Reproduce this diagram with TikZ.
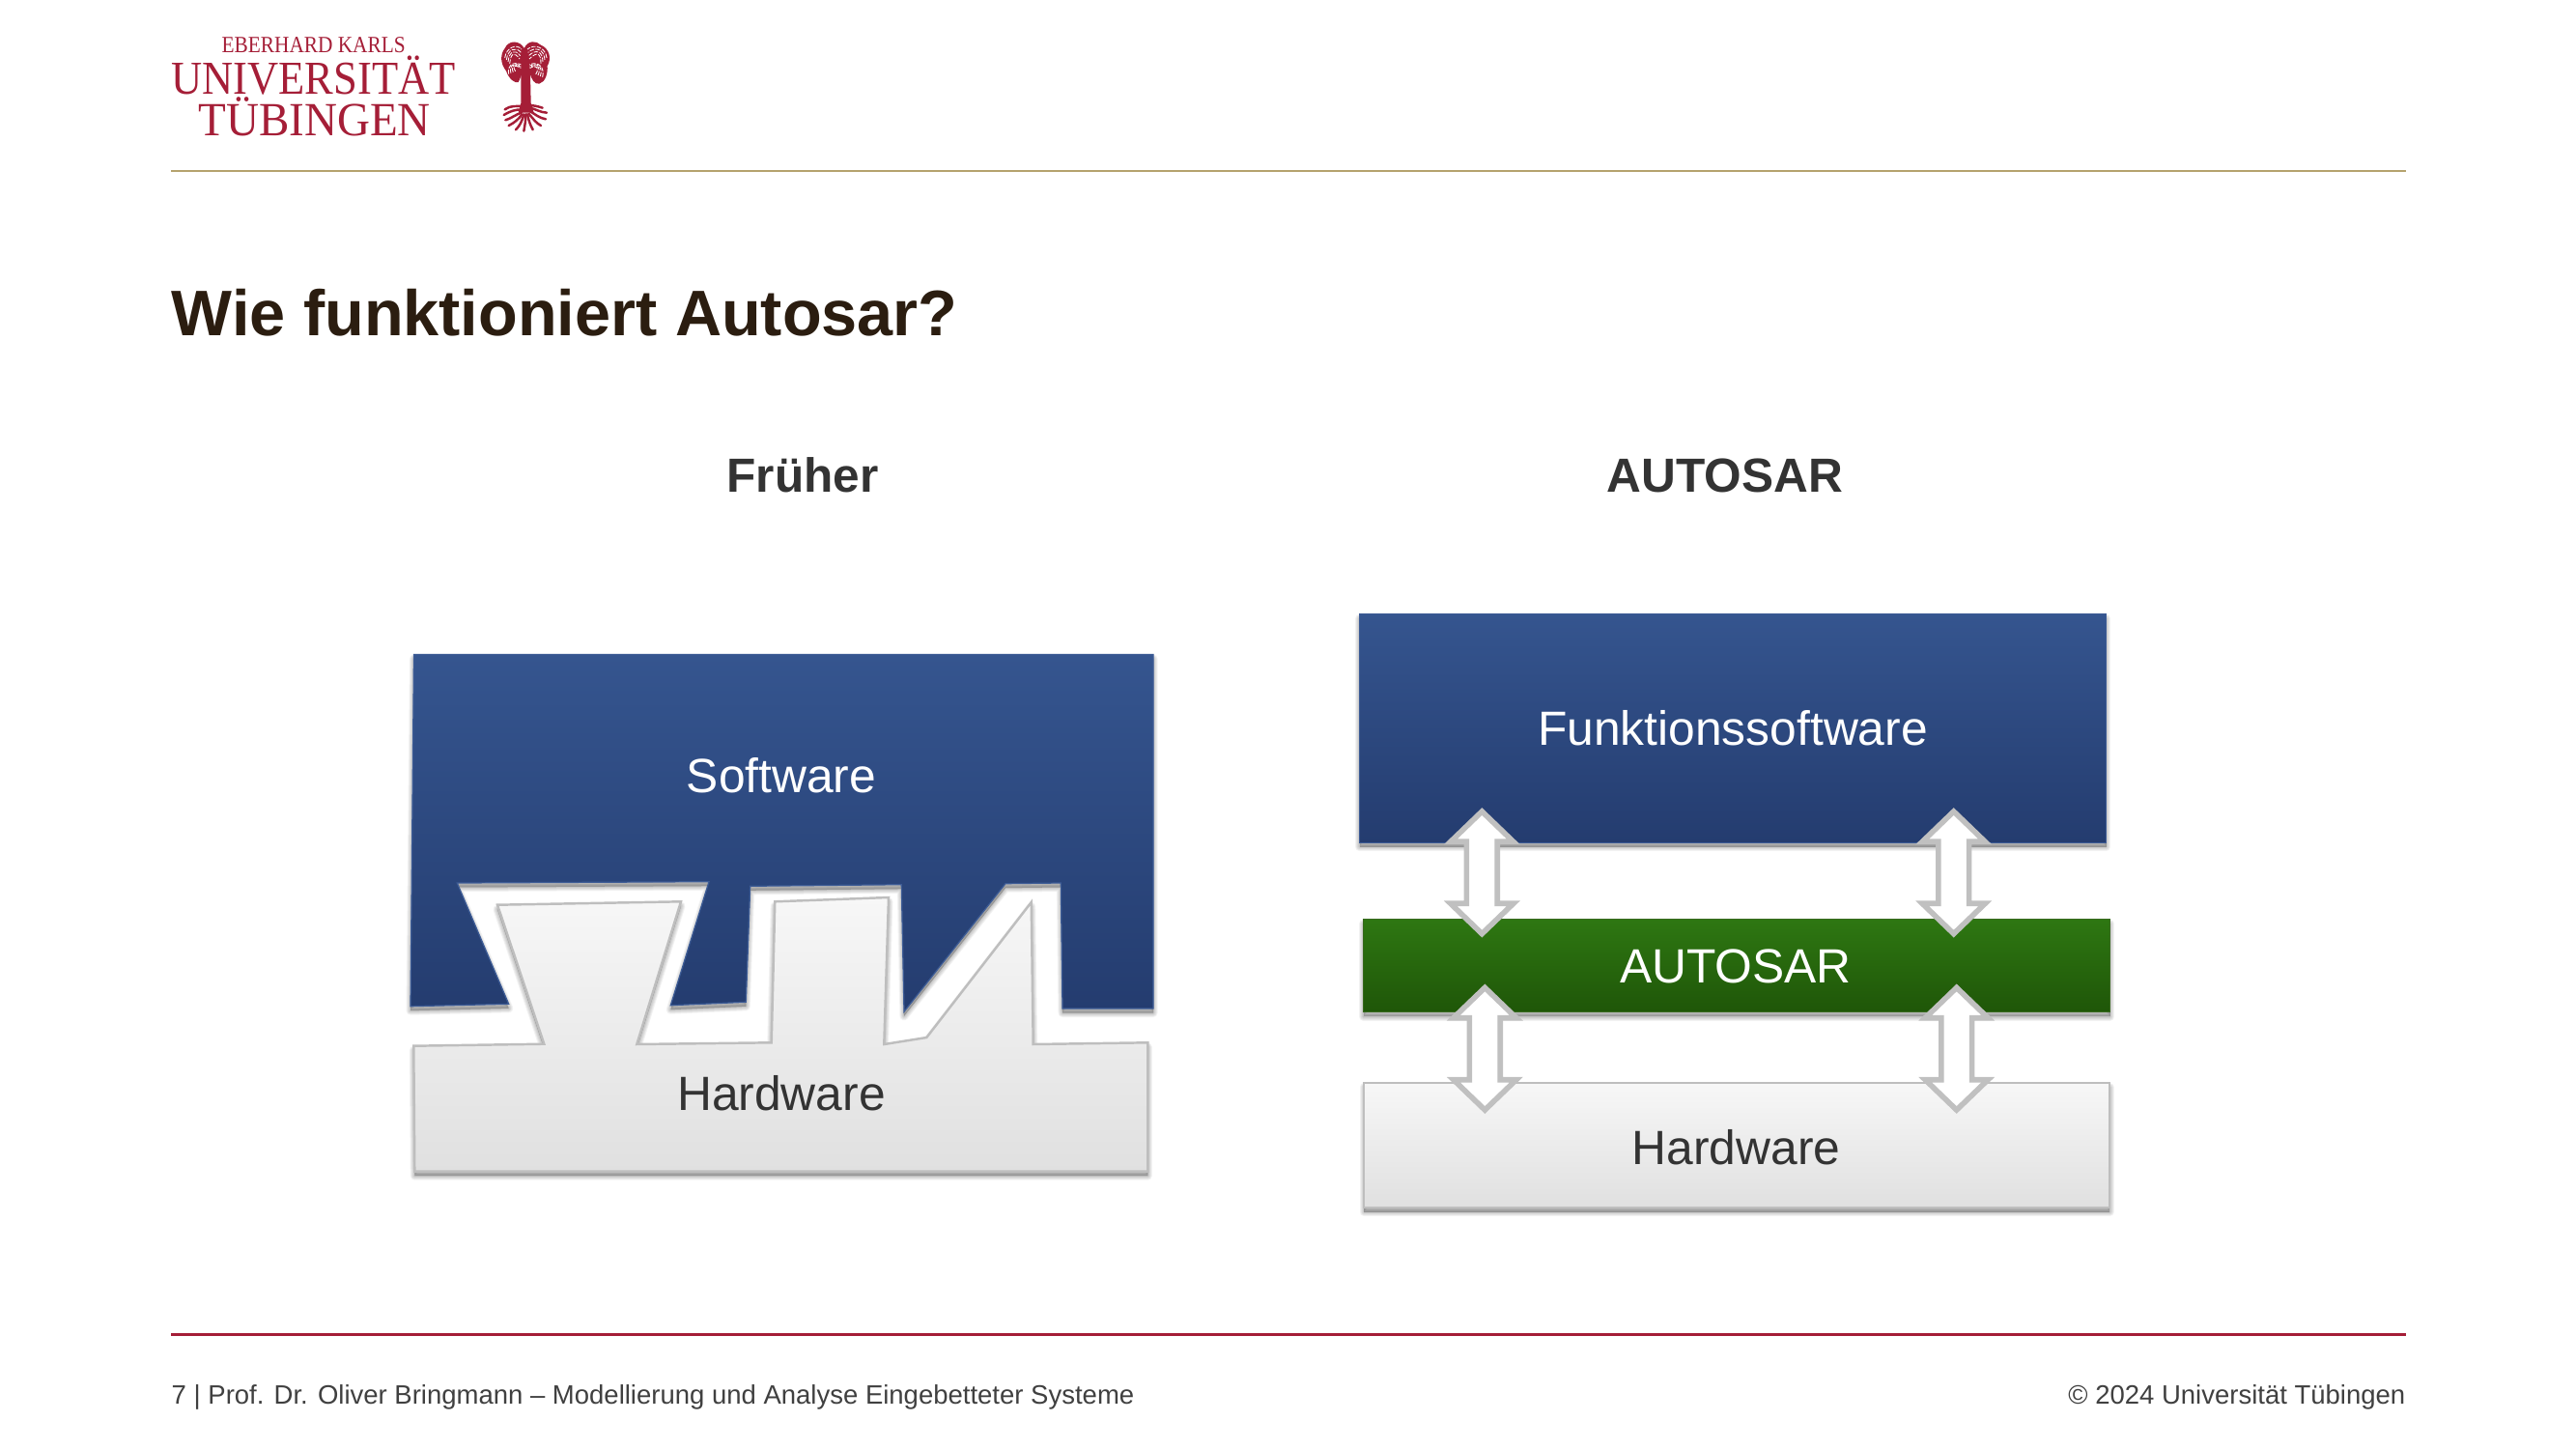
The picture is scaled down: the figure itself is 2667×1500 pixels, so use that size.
\documentclass[tikz,border=0pt]{standalone}
\usepackage{fontspec}
\setmainfont{Liberation Sans}
\newfontfamily\logofont{Liberation Serif}
\newcommand{\pxsize}[1]{\fontsize{#1}{#1}\selectfont}
\definecolor{crimson}{HTML}{A51E37}
\definecolor{goldrule}{HTML}{B5A36E}
\definecolor{titlecol}{HTML}{2B1D10}
\definecolor{darktext}{HTML}{333333}
\definecolor{footcol}{HTML}{404040}
\definecolor{blueTop}{HTML}{35558F}
\definecolor{blueBot}{HTML}{243C6F}
\definecolor{blueEdge}{HTML}{3D5C96}
\definecolor{greenTop}{HTML}{2E7712}
\definecolor{greenBot}{HTML}{1F5608}
\definecolor{greenEdge}{HTML}{38691F}
\definecolor{hwTop}{HTML}{F7F7F7}
\definecolor{hwBot}{HTML}{E0E0E0}
\definecolor{hwEdge}{HTML}{BEBEBE}
\definecolor{arrowEdge}{HTML}{C0C0C0}
\tikzset{
  softshade/.style={draw=black,fill=black,draw opacity=.05,fill opacity=.05,line join=round,line width=#1*0.2845pt,shift={(0,4.5)}},
  bluebox/.style={top color=blueTop,bottom color=blueBot,draw=blueEdge,line width=0.35pt,line join=miter},
  greenbox/.style={top color=greenTop,bottom color=greenBot,draw=greenEdge,line width=0.35pt},
  hwbox/.style={top color=hwTop,bottom color=hwBot,draw=hwEdge,line width=0.7pt,line join=miter},
  blockarrow/.style={fill=white,draw=arrowEdge,line width=1.6pt,line join=miter,miter limit=10},
  rule/.style={line width=0.6pt},
  label/.style={anchor=base,font=\pxsize{14.15}},
  heading/.style={anchor=base,font=\pxsize{14.1}\bfseries,text=darktext},
  logotext/.style={anchor=base west,text=crimson,inner sep=0pt,transform shape},
  foot/.style={font=\pxsize{7.82},text=footcol,inner sep=0pt},
  rootline/.style={draw=crimson,line cap=round,line width=0.7pt},
  leafline/.style={draw=white,line width=0.24pt,dash pattern=on 1.3pt off 0.4pt}
}
\newcommand{\softened}[1]{%
  \foreach \w in {9,7,5,3,1}{\path[softshade=\w] #1;}%
}
\newcommand{\dblarrow}[3]{% name, centre x, centre y
  \path[blockarrow,shift={(#2,#3)}]
    (0,-63.3) -- (32.5,-32) -- (15.9,-32) -- (15.9,32) -- (32.5,32) -- (0,63.3)
    -- (-32.5,32) -- (-15.9,32) -- (-15.9,-32) -- (-32.5,-32) -- cycle;
}
\begin{document}
\begin{tikzpicture}[x=0.01cm,y=-0.01cm]
\useasboundingbox (0,0) rectangle (2667,1500);
\fill[white] (0,0) rectangle (2667,1500);

% logo
\node[logotext,font=\logofont\pxsize{6.85},xscale=.885] (logoa) at (229,55) {EBERHARD KARLS};
\node[logotext,font=\logofont\pxsize{13.9},xscale=.91,text height=9.2pt,text depth=0pt] (logob) at (177,98) {UNIVERSITÄT};
\node[logotext,font=\logofont\pxsize{14},xscale=.955,text height=9.2pt] (logoc) at (205,140) {TÜBINGEN};
\begin{scope}[shift={(510,35)},x=0.01cm/3,y=-0.01cm/3]
  \fill[crimson] (98,45) .. controls (85,20) and (50,18) .. (38,45)
    .. controls (22,65) and (25,95) .. (42,115)
    .. controls (50,140) and (70,155) .. (80,150)
    .. controls (88,135) and (90,125) .. (92,120) -- (115,120)
    .. controls (120,140) and (130,158) .. (145,155)
    .. controls (165,150) and (172,120) .. (170,100)
    .. controls (185,75) and (175,45) .. (150,35)
    .. controls (135,20) and (110,20) .. (98,45) -- cycle;
  \foreach \r in {0,1,2,3}{
    \draw[leafline] ({38+\r*5},{75+\r*6}) .. controls ({42+\r*5},{42+\r*6}) and ({75-\r*3},{30+\r*8}) .. ({90-\r*2},{48+\r*10});
    \draw[leafline] ({168-\r*6},{75+\r*6}) .. controls ({165-\r*5},{42+\r*6}) and ({130+\r*3},{30+\r*8}) .. ({108+\r*2},{48+\r*10});
    \draw[leafline] ({50+\r*7},{125-\r*3}) .. controls ({45+\r*5},{100}) and ({60+\r*3},{85+\r*3}) .. ({88},{95+\r*4});
    \draw[leafline] ({155-\r*7},{135-\r*3}) .. controls ({162-\r*5},{105}) and ({145-\r*3},{85+\r*3}) .. ({115},{95+\r*4});
  }
  \fill[crimson] (88,125) -- (90,90) -- (103,68) -- (114,90) -- (117,125) -- (119,215) -- (128,245) -- (80,245) -- (88,215) -- cycle;
  \draw[rootline] (95,225) .. controls (75,225) and (55,222) .. (38,235);
  \draw[rootline] (92,235) .. controls (70,235) and (55,240) .. (35,252);
  \draw[rootline] (90,245) .. controls (72,250) and (60,262) .. (40,268);
  \draw[rootline] (92,250) .. controls (80,265) and (70,275) .. (50,285);
  \draw[rootline] (97,250) .. controls (92,270) and (85,285) .. (72,298);
  \draw[rootline] (103,250) .. controls (103,270) and (100,285) .. (97,302);
  \draw[rootline] (108,250) .. controls (112,270) and (118,285) .. (125,298);
  \draw[rootline] (112,248) .. controls (125,262) and (135,278) .. (150,285);
  \draw[rootline] (115,240) .. controls (130,248) and (145,262) .. (165,265);
  \draw[rootline] (115,230) .. controls (130,232) and (150,245) .. (168,245);
  \draw[rootline] (112,222) .. controls (125,222) and (140,225) .. (155,230);
\end{scope}

% rules
\coordinate (ruleTopA) at (177,176.7);
\coordinate (ruleTopB) at (2491,176.7);
\coordinate (ruleBotA) at (177,1381.5);
\coordinate (ruleBotB) at (2491,1381.5);
\draw[rule,goldrule] (ruleTopA) -- (ruleTopB);
\draw[rule,crimson] (ruleBotA) -- (ruleBotB);

% title and headings
\node[anchor=base west,inner sep=0pt,font=\pxsize{18.95}\bfseries,text=titlecol] (title) at (177,347.5) {Wie funktioniert Autosar?};
\node[heading] (fruher) at (831,509) {Früher};
\node[heading] (autosarhead) at (1786,509) {AUTOSAR};

% left: hardware with teeth
\def\hwpath{(428.3,1082.7) -- (563.3,1080.7) -- (515,936.7) -- (705,933.3) -- (659.3,1081) -- (798.7,1079.3) -- (802.3,933.3) -- (920,929) -- (915.3,1081) -- (959.3,1074) -- (1067.7,934) -- (1069.7,1081) -- (1188.3,1079.3) -- (1188.3,1212.7) -- (429.3,1212.7) -- cycle}
\def\swpath{(428.5,677.5) -- (1194,677.5) -- (1194,1044) -- (1100,1044) -- (1098.3,914) -- (1041,914.7) -- (936,1047.3) -- (933.3,915.7) -- (776.7,917.3) -- (772.3,1037.3) -- (694.3,1040.7) -- (734,912.7) -- (473.3,914) -- (526.7,1039.3) -- (425,1041.7) -- cycle}
\softened{\hwpath}
\path[hwbox] \hwpath;
\softened{\swpath}
\path[bluebox] \swpath;
\node[label,text=white] (software) at (809,820) {Software};
\node[label,text=darktext] (hardwareL) at (809,1149.5) {Hardware};

% right: layers
\def\fnpath{(1407.7,635.5) rectangle (2180.7,872.3)}
\def\grpath{(1411.5,951.5) rectangle (2184.7,1047.5)}
\def\hrpath{(1412,1121) rectangle (2184,1250)}
\softened{\fnpath}
\path[bluebox] \fnpath;
\softened{\grpath}
\path[greenbox] \grpath;
\softened{\hrpath}
\path[hwbox] \hrpath;
\node[label,text=white] (funktion) at (1794,771.5) {Funktionssoftware};
\node[label,text=white] (autosar) at (1797,1017) {AUTOSAR};
\node[label,text=darktext] (hardwareR) at (1797.6,1205) {Hardware};

\dblarrow{a1}{1534.3}{903.3}
\dblarrow{a2}{2022.7}{903.3}
\dblarrow{a3}{1537.3}{1085.7}
\dblarrow{a4}{2025.7}{1085.7}

% footer
\node[foot,anchor=base west] (footL) at (177,1453) {7 | Prof. Dr. Oliver Bringmann – Modellierung und Analyse Eingebetteter Systeme};
\node[foot,anchor=base east] (footR) at (2491,1453) {© 2024 Universität Tübingen};
\end{tikzpicture}
\end{document}
